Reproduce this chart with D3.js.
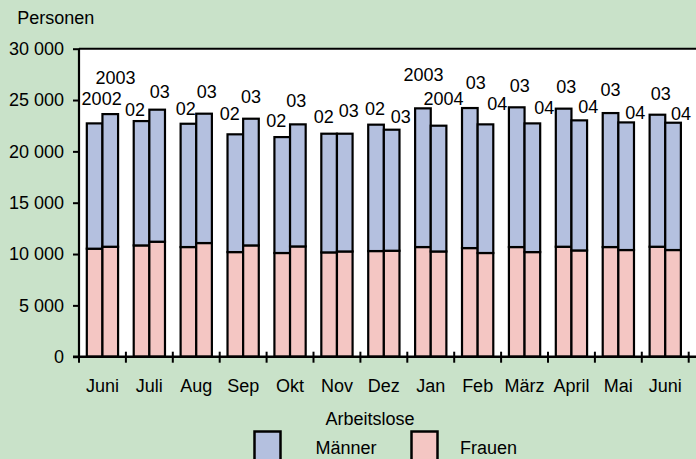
<!DOCTYPE html>
<html><head><meta charset="utf-8">
<script src="https://cdn.jsdelivr.net/npm/d3@7"></script>
<style>
html,body{margin:0;padding:0;background:#c9e2c9;}
svg{display:block;font-family:"Liberation Sans",Arial,sans-serif;}
</style></head>
<body>
<script>
const months = ["Juni","Juli","Aug","Sep","Okt","Nov","Dez","Jan","Feb","März","April","Mai","Juni"];
const labelsFirst  = ["2002","02","02","02","02","02","02","2003","03","03","03","03","03"];
const labelsSecond = ["2003","03","03","03","03","03","03","2004","04","04","04","04","04"];
// Frauen (first / second year bar)
const frauenFirst  = [10520,10840,10680,10190,10100,10160,10290,10680,10580,10680,10710,10680,10710];
const frauenSecond = [10710,11200,11070,10840,10740,10250,10320,10250,10100,10190,10350,10390,10390];
// Männer (first / second year bar)
const maennerFirst  = [12205,12110,12010,11470,11290,11560,12310,13510,13640,13610,13450,13050,12860];
const maennerSecond = [12920,12860,12600,12340,11890,11470,11790,12250,12530,12535,12670,12430,12400];
const yTicks = [0,5000,10000,15000,20000,25000,30000];
const seriesNames = ["Männer","Frauen"];
const colors = {"Männer":"#b4c0df","Frauen":"#f4c6c3"};
// label placement (annotation layout, px): [dx, gap above bar]
const labelLayoutFirst  = [[7,18],[-6.4,5],[-2.6,9],[-5.5,14],[-6,10],[-5.3,11],[-1,10],[0.6,27],[6,18.7],[3,15.3],[2.7,15.3],[0,17],[3.4,14.6]];
const labelLayoutSecond = [[5.3,30],[2.5,12],[2.6,16],[0,16],[-1.5,17],[4,17],[9,7],[5,20.6],[11.7,14.3],[12,9],[9,7],[9,3.7],[8,2.6]];

const W=696,H=459;
const svg=d3.select("body").append("svg").attr("width",W).attr("height",H);
svg.append("rect").attr("width",W).attr("height",H).attr("fill","#c9e2c9");

const x0=79, x1=688.7, yTop=48.7, yBot=356.7;
const cats = months.map((m,i)=>i);
const x=d3.scaleBand().domain(cats).range([x0,x1]).padding(0);
const xs=d3.scaleBand().domain(["a","b"]).range([0,x.bandwidth()]).paddingInner(0).paddingOuter(0.5);
const y=d3.scaleLinear().domain([0,30000]).range([yBot,yTop]);

// plot background
svg.append("rect").attr("x",x0).attr("y",yTop).attr("width",W-x0).attr("height",yBot-yTop).attr("fill","#fff");
svg.append("line").attr("x1",x0).attr("x2",W).attr("y1",yTop).attr("y2",yTop).attr("stroke","#000").attr("stroke-width",2);

const font=18;
// bars
const bars=[];
cats.forEach(i=>{
  bars.push({i,k:"a",f:frauenFirst[i],m:maennerFirst[i],lab:labelsFirst[i],lay:labelLayoutFirst[i]});
  bars.push({i,k:"b",f:frauenSecond[i],m:maennerSecond[i],lab:labelsSecond[i],lay:labelLayoutSecond[i]});
});
const g=svg.append("g");
bars.forEach(b=>{
  const bx=x(b.i)+xs(b.k), bw=xs.bandwidth();
  g.append("rect").attr("x",bx).attr("width",bw).attr("y",y(b.f)).attr("height",y(0)-y(b.f))
    .attr("fill",colors["Frauen"]).attr("stroke","#000").attr("stroke-width",2.2);
  g.append("rect").attr("x",bx).attr("width",bw).attr("y",y(b.f+b.m)).attr("height",y(b.f)-y(b.f+b.m))
    .attr("fill",colors["Männer"]).attr("stroke","#000").attr("stroke-width",2.2);
});
bars.forEach(b=>{
  const cx=x(b.i)+xs(b.k)+xs.bandwidth()/2;
  svg.append("text").attr("x",cx+b.lay[0]).attr("y",y(b.f+b.m)-b.lay[1])
    .attr("text-anchor","middle").attr("font-size",font).attr("fill","#000").text(b.lab);
});

// y axis
const yAxis=d3.axisLeft(y).tickValues(yTicks).tickSize(6).tickPadding(9)
  .tickFormat(d=>d3.format(",")(d).replace(/,/g," "));
const ya=svg.append("g").attr("transform",`translate(${x0},0)`).call(yAxis);
ya.select(".domain").attr("stroke","#000").attr("stroke-width",2.2).attr("d",`M0,${yTop}V${yBot}`);
ya.selectAll(".tick line").attr("stroke","#000").attr("stroke-width",2);
ya.selectAll(".tick text").attr("font-size",font).attr("font-family","Liberation Sans, Arial, sans-serif").attr("fill","#000");

// x axis
const xa=svg.append("g").attr("transform",`translate(0,${yBot})`);
xa.append("line").attr("x1",x0-6).attr("x2",W).attr("y1",0).attr("y2",0).attr("stroke","#000").attr("stroke-width",2.6);
const bounds=cats.map(i=>x(i)).concat([x1]);
xa.selectAll(".xt").data(bounds).enter().append("line")
  .attr("x1",d=>d).attr("x2",d=>d).attr("y1",-5).attr("y2",6).attr("stroke","#000").attr("stroke-width",2);
xa.selectAll(".xl").data(cats).enter().append("text")
  .attr("x",d=>x(d)+x.bandwidth()/2).attr("y",35).attr("text-anchor","middle")
  .attr("font-size",font).attr("fill","#000").text(d=>months[d]);

// axis title
svg.append("text").attr("x",17.3).attr("y",23.5).attr("font-size",font).attr("fill","#000").text("Personen");

// legend
svg.append("text").attr("x",370).attr("y",425).attr("text-anchor","middle").attr("font-size",font).attr("fill","#000").text("Arbeitslose");
const legPos=[{bx:254.5,tx:346,anchor:"middle"},{bx:411.5,tx:460,anchor:"start"}];
seriesNames.forEach((s,i)=>{
  svg.append("rect").attr("x",legPos[i].bx).attr("y",431.5).attr("width",26).attr("height",30)
    .attr("fill",colors[s]).attr("stroke","#000").attr("stroke-width",2.5);
  svg.append("text").attr("x",legPos[i].tx).attr("y",453.5).attr("text-anchor",legPos[i].anchor)
    .attr("font-size",font).attr("fill","#000").text(s);
});
</script>
</body></html>
